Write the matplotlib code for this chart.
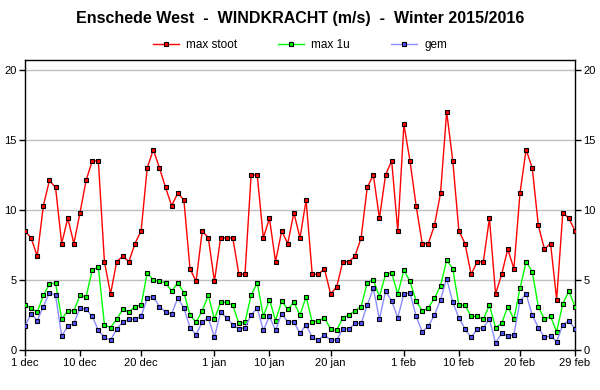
import matplotlib
matplotlib.use("Agg")
import matplotlib.pyplot as plt
import numpy as np
import pandas as pd

plt.rcParams["font.family"] = ["Liberation Sans", "DejaVu Sans"]

# daily values, 1 dec 2015 .. 29 feb 2016 (m/s)
dates = pd.date_range("2015-12-01", "2016-02-29", freq="D")

max_stoot = [
    8.5, 8.0, 6.7, 10.3, 12.1, 11.6, 7.6, 9.4, 7.6, 9.8,
    12.1, 13.5, 13.5, 6.3, 4.0, 6.3, 6.7, 6.3, 7.6, 8.5,
    13.0, 14.3, 13.0, 11.6, 10.3, 11.2, 10.7, 5.8, 4.9, 8.5,
    8.0, 4.9, 8.0, 8.0, 8.0, 5.4, 5.4, 12.5, 12.5, 8.0,
    9.4, 6.3, 8.5, 7.6, 9.8, 8.0, 10.7, 5.4, 5.4, 5.8,
    4.0, 4.5, 6.3, 6.3, 6.7, 8.0, 11.6, 12.5, 9.4, 12.5,
    13.5, 8.5, 16.1, 13.5, 10.3, 7.6, 7.6, 8.9, 11.2, 17.0,
    13.5, 8.5, 7.6, 5.4, 6.3, 6.3, 9.4, 4.0, 5.4, 7.2,
    5.8, 11.2, 14.3, 13.0, 8.9, 7.2, 7.6, 3.6, 9.8, 9.4,
    8.5,
]
max_1u = [
    3.2, 3.0, 2.7, 3.9, 4.7, 4.8, 2.2, 2.8, 2.8, 3.9,
    3.8, 5.7, 5.9, 1.8, 1.6, 2.2, 2.9, 2.7, 3.1, 3.2,
    5.5, 5.0, 4.9, 4.8, 4.2, 4.8, 4.1, 2.5, 2.0, 2.8,
    3.9, 2.2, 3.4, 3.4, 3.2, 1.9, 2.0, 3.9, 4.8, 2.4,
    3.6, 2.1, 3.5, 2.9, 3.4, 2.5, 3.8, 2.0, 2.1, 2.3,
    1.5, 1.4, 2.3, 2.5, 2.8, 3.1, 4.8, 5.0, 3.8, 5.4,
    5.5, 4.0, 5.7, 4.9, 3.5, 2.8, 3.0, 3.7, 4.6, 6.4,
    5.8, 3.2, 3.2, 2.4, 2.4, 2.2, 3.2, 1.6, 1.9, 3.1,
    2.2, 4.4, 6.3, 5.6, 3.1, 2.2, 2.4, 1.3, 3.3, 4.2,
    3.1,
]
gem = [
    1.7, 2.6, 2.1, 3.1, 4.1, 3.9, 1.0, 1.7, 1.9, 3.0,
    2.9, 2.4, 1.4, 0.9, 0.7, 1.5, 2.0, 2.2, 2.2, 2.4,
    3.7, 3.8, 3.1, 2.7, 2.6, 3.7, 3.0, 1.6, 1.1, 2.0,
    2.3, 0.9, 2.7, 2.3, 1.8, 1.5, 1.6, 2.5, 3.0, 1.4,
    2.4, 1.4, 2.6, 2.0, 2.0, 1.2, 1.8, 0.9, 0.7, 1.1,
    0.7, 0.7, 1.5, 1.5, 1.9, 1.9, 3.2, 4.4, 2.2, 4.2,
    3.5, 2.3, 4.0, 4.1, 2.4, 1.3, 1.7, 2.5, 3.6, 5.1,
    3.4, 2.3, 1.5, 0.9, 1.5, 1.6, 2.2, 0.5, 1.2, 1.0,
    1.1, 3.5, 4.0, 2.5, 1.6, 0.9, 1.0, 0.6, 1.8, 2.1,
    1.5,
]

tick_dates = pd.to_datetime([
    "2015-12-01", "2015-12-10", "2015-12-20", "2016-01-01", "2016-01-10",
    "2016-01-20", "2016-02-01", "2016-02-10", "2016-02-20", "2016-02-29",
])
tick_labels = ["1 dec", "10 dec", "20 dec", "1 jan", "10 jan",
               "20 jan", "1 feb", "10 feb", "20 feb", "29 feb"]
y_ticks = [0, 5, 10, 15, 20]

fig = plt.figure(figsize=(6, 3.9), dpi=100)
ax = fig.add_axes([25 / 600, 40 / 390, 550 / 600, 290 / 390])

series = [
    ("max stoot", max_stoot, "#ff0000", "#ff0000"),
    ("max 1u", max_1u, "#00ff00", "#00ff00"),
    ("gem", gem, "#8c8cff", "#5050ff"),
]
for label, vals, lcol, mcol in series:
    ax.plot(dates, vals, color=lcol, lw=1.0, marker="s", ms=3.2,
            mfc=mcol, mec="black", mew=0.8, label=label, zorder=3)

for y in y_ticks[1:]:
    ax.axhline(y, color="#c0c0c0", lw=1.0, zorder=1)

ax.set_xlim(dates[0], dates[-1])
ax.set_ylim(0, 20.7)
ax.set_xticks(tick_dates)
ax.set_xticklabels(tick_labels)
ax.set_yticks(y_ticks)
ax.tick_params(axis="both", labelsize=8, length=4, width=1, direction="out",
               pad=2)
ax.tick_params(axis="y", right=True, labelright=True)
for sp in ax.spines.values():
    sp.set_linewidth(1.0)

fig.text(0.5, 1 - 18 / 390, "Enschede West  -  WINDKRACHT (m/s)  -  Winter 2015/2016",
         ha="center", va="center", fontsize=11.5, fontweight="bold")
fig.legend(*ax.get_legend_handles_labels(), loc="center",
           bbox_to_anchor=(0.5, 1 - 45 / 390), ncol=3, frameon=False,
           fontsize=8.5, handlelength=2.2, columnspacing=3.5, handletextpad=0.6)

fig.savefig("out.png", dpi=100)
